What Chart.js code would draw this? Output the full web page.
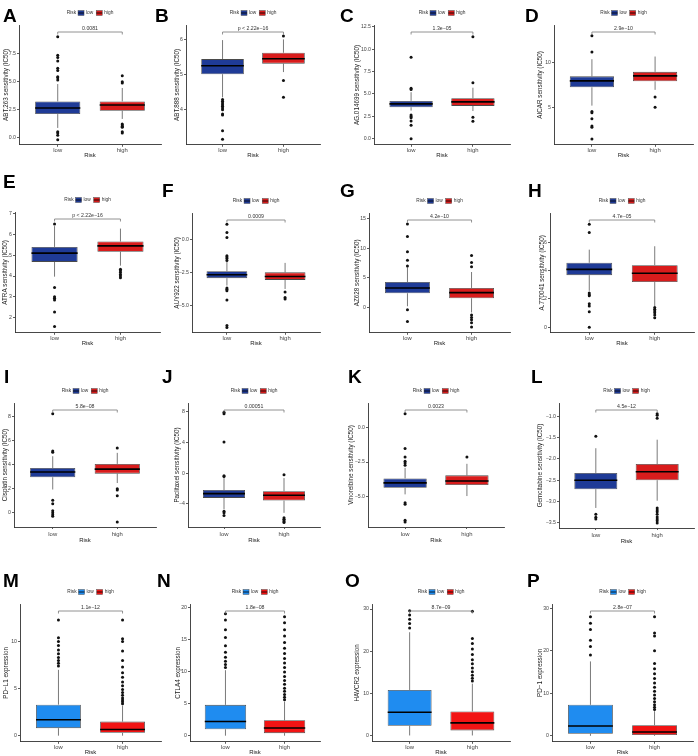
<!DOCTYPE html>
<html><head><meta charset="utf-8">
<script src="https://cdn.jsdelivr.net/npm/chart.js@4"></script>
<style>
html,body{margin:0;padding:0;background:#fff;}
body{width:698px;height:756px;position:relative;overflow:hidden;}
canvas{position:absolute;}
</style></head><body>
<script>
// ---------------- DATA ----------------
const categories = ['low', 'high'];
const panelLetters = ['A','B','C','D','E','F','G','H','I','J','K','L','M','N','O','P'];
const yTitles = [
  'ABT.263 sensitivity (IC50)','ABT.888 sensitivity (IC50)','AG.014699 sensitivity (IC50)','AICAR sensitivity (IC50)',
  'ATRA sensitivity (IC50)','AUY922 sensitivity (IC50)','AZ628 sensitivity (IC50)','A.770041 sensitivity (IC50)',
  'Cisplatin sensitivity (IC50)','Paclitaxel sensitivity (IC50)','Vinorelbine sensitivity (IC50)','Gemcitabine sensitivity (IC50)',
  'PD\u2212L1 expression','CTLA4 expression','HAVCR2 expression','PD\u22121 expression'
];
const pValues = ['0.0081','p < 2.22e\u221216','1.3e\u221205','2.9e\u221210',
  'p < 2.22e\u221216','0.0009','4.2e\u221210','4.7e\u221205',
  '5.8e\u221208','0.00051','0.0023','4.5e\u221212',
  '1.1e\u221212','1.8e\u221208','8.7e\u221209','2.8e\u221207'];
// [lower whisker, Q1, median, Q3, upper whisker]
const lowStats = [
  [0.85,2.08,2.62,3.21,4.75],[4.35,5.01,5.25,5.44,5.98],[3.15,3.52,3.9,4.23,5.2],[5.25,7.28,8.0,8.5,10.4],
  [3.97,4.68,5.1,5.4,6.4],[-3.46,-2.9,-2.64,-2.38,-1.67],[0.2,2.4,3.3,4.3,6.8],[2.58,3.69,4.1,4.57,5.5],
  [1.9,2.92,3.36,3.69,4.67],[-4.7,-3.22,-2.67,-2.2,-0.65],[-4.83,-4.35,-4.0,-3.68,-2.92],[-3.15,-2.71,-2.5,-2.33,-1.75],
  [0,0.8,1.7,3.3,7.0],[0,1.0,2.2,4.8,10.2],[0,2.3,5.5,10.8,24.5],[0,0.5,2.3,7.3,17.5]
];
const highStats = [
  [1.65,2.38,2.89,3.21,4.4],[5.07,5.31,5.45,5.62,6.0],[3.1,3.67,4.12,4.53,5.7],[7.0,7.95,8.55,9.0,10.7],
  [4.5,5.17,5.45,5.66,6.28],[-3.72,-3.03,-2.77,-2.46,-1.74],[-0.85,1.55,2.5,3.3,6.0],[1.5,3.2,3.83,4.4,5.74],
  [2.44,3.22,3.6,4.03,4.95],[-5.16,-3.57,-2.88,-2.36,-0.65],[-4.95,-4.16,-3.87,-3.46,-2.63],[-2.98,-2.5,-2.3,-2.12,-1.55],
  [0,0.3,0.65,1.5,3.2],[0,0.4,1.2,2.4,5.3],[0,1.2,3.0,5.7,12.3],[0,0.2,0.9,2.5,5.8]
];
const lowOutliers = [
  [8.95,7.3,7.1,6.8,6.15,5.95,5.4,5.3,5.1,0.5,0.4,0.2,-0.2],
  [4.29,4.24,4.19,4.14,4.1,4.05,4.0,3.88,3.85,3.4,3.16],
  [9.1,5.65,5.5,2.65,2.5,2.35,2.0,1.5,0.0],
  [13.0,11.2,4.6,4.45,3.8,3.0,2.85,1.55],
  [6.5,3.45,3.0,2.93,2.85,2.27,1.57],
  [1.2,0.56,0.18,-1.2,-1.3,-1.4,-1.55,-3.64,-3.75,-3.85,-4.56,-6.5,-6.65],
  [14.15,12.0,9.45,8.0,7.0,-0.4,-2.4],
  [7.3,6.72,2.42,2.3,2.22,1.67,1.5,1.1,0.0],
  [8.2,5.1,5.0,1.0,0.72,0.14,-0.03,-0.2,-0.33],
  [7.9,7.7,4.05,-0.43,-0.35,-4.95,-5.15,-5.5],
  [0.98,-1.53,-2.13,-2.44,-2.57,-2.73,-5.43,-5.55,-6.7,-6.82],
  [-1.47,-3.3,-3.37,-3.41],
  [7.4,7.7,8.0,8.3,8.7,9.1,9.6,10.0,10.4,12.3],
  [10.6,11.1,11.6,12.2,13.0,14.0,15.3,16.5,18.0,19.0],
  [25.5,26.6,27.6,28.6,29.6],
  [19.0,21.0,22.5,25.0,26.5,28.0]
];
const highOutliers = [
  [5.48,4.95,4.85,1.2,1.1,1.0,0.9,0.5,0.4],
  [6.1,4.83,4.35],
  [11.4,6.25,2.4,1.95],
  [6.2,5.07],
  [4.33,4.25,4.17,4.08,4.0,3.92],
  [-3.95,-4.36,-4.49],
  [8.8,7.6,6.9,-1.3,-1.7,-2.1,-2.6,-3.3],
  [1.39,1.27,1.15,1.03,0.86,0.67],
  [5.36,1.97,1.86,1.39,-0.8],
  [-0.2,-5.8,-6.0,-6.1,-6.3,-6.4],
  [-2.13],
  [-0.94,-0.98,-1.05,-3.15,-3.2,-3.24,-3.3,-3.36,-3.41,-3.45,-3.5],
  [3.4,3.6,3.8,4.0,4.3,4.6,4.9,5.3,5.7,6.2,6.7,7.3,8.0,9.0,10.0,10.3,12.3],
  [5.6,6.0,6.4,6.9,7.4,8.0,8.6,9.2,9.9,10.6,11.3,12.0,12.8,13.6,14.5,15.5,16.5,17.6,18.5],
  [12.9,13.6,14.3,15.1,16.0,17.0,18.0,19.2,20.5,21.8,23.0,29.5],
  [6.2,6.7,7.3,8.0,8.8,9.6,10.5,11.4,12.4,13.5,14.6,15.8,17.0,20.0,23.5,24.2,28.0]
];
const yRanges = [
  [-0.65,10.0],[3.0,6.41],[-0.67,12.7],[0.9,14.2],
  [1.27,7.08],[-7.05,2.05],[-4.3,16.0],[-0.4,8.1],
  [-1.22,9.1],[-7.0,9.1],[-7.18,1.75],[-3.62,-0.69],
  [-0.65,14.0],[-0.95,20.5],[-1.5,31.2],[-1.4,31.0]
];
const yTickValues = [
  [0,2.5,5,7.5],[4,5,6],[0,2.5,5,7.5,10,12.5],[5,10],
  [2,3,4,5,6,7],[-5,-2.5,0],[0,5,10,15],[0,2,4,6],
  [0,2,4,6,8],[-4,0,4,8],[-5,-2.5,0],[-3.5,-3,-2.5,-2,-1.5,-1],
  [0,5,10],[0,5,10,15,20],[0,10,20,30],[0,10,20,30]
];
const yTickLabels = [
  ['0.0','2.5','5.0','7.5'],['4','5','6'],['0.0','2.5','5.0','7.5','10.0','12.5'],['5','10'],
  ['2','3','4','5','6','7'],['\u22125.0','\u22122.5','0.0'],['0','5','10','15'],['0','2','4','6'],
  ['0','2','4','6','8'],['\u22124','0','4','8'],['\u22125.0','\u22122.5','0.0'],['\u22123.5','\u22123.0','\u22122.5','\u22122.0','\u22121.5','\u22121.0'],
  ['0','5','10'],['0','5','10','15','20'],['0','10','20','30'],['0','10','20','30']
];

// ---------------- LAYOUT (page pixels) ----------------
// l, t, r, b of plot area, y-title centre x, letter x, letter baseline, x-axis block height, tick padding
const layout = [
  [19,25,163,144, 6, 3,22,14.2,0],[186,25,322,144,177,155,22,14.2,0],[374,25,512,144,357,340,22,14.2,0],[554,25,695,144,540,525,22,14.2,0],
  [15,212,162,332, 5, 3,188,14.2,0],[192,213,322,332,177,162,197,14.2,0],[369,213,512,332,357,340,197,14.2,0],[550,213,696,332,542,528,197,14.2,0],
  [14,403,158,527, 5, 4,383,17,1.5],[188,403,322,527,177,162,383,17,1.5],[368,403,506,527,351,348,383,17,1.5],[559,403,697,528,540,531,383,17,1.5],
  [20,604,163,741, 6, 3,587,14.2,0],[190,604,322,741,178,157,587,14.2,0],[372,604,512,741,357,345,587,14.2,0],[552,604,695,741,540,527,587,14.2,0]
];
const FONT = "'Liberation Sans', Arial, sans-serif";
const colorsDark = ['#1f3b97', '#d91c1c'];
const colorsBright = ['#1f8cf0', '#f21414'];

const boxExtras = {
  id: 'boxExtras',
  beforeDatasetsDraw(chart, args, opts) {
    const p = opts.panel, xs = chart.scales.x, ys = chart.scales.y, ctx = chart.ctx;
    ctx.save();
    ctx.strokeStyle = '#6b6b6b'; ctx.lineWidth = 0.9;
    [lowStats[p], highStats[p]].forEach((s, i) => {
      const x = xs.getPixelForValue(i + 1);
      ctx.beginPath();
      ctx.moveTo(x, ys.getPixelForValue(s[0])); ctx.lineTo(x, ys.getPixelForValue(s[1]));
      ctx.moveTo(x, ys.getPixelForValue(s[3])); ctx.lineTo(x, ys.getPixelForValue(s[4]));
      ctx.stroke();
    });
    ctx.restore();
  },
  afterDatasetsDraw(chart, args, opts) {
    const p = opts.panel, ys = chart.scales.y, ctx = chart.ctx;
    const bars = chart.getDatasetMeta(1).data;
    ctx.save();
    ctx.strokeStyle = '#000'; ctx.lineWidth = 1.6;
    [lowStats[p], highStats[p]].forEach((s, i) => {
      const el = bars[i];
      const y = ys.getPixelForValue(s[2]);
      ctx.beginPath();
      ctx.moveTo(el.x - el.width / 2, y); ctx.lineTo(el.x + el.width / 2, y);
      ctx.stroke();
    });
    ctx.restore();
  },
  afterDraw(chart, args, opts) {
    const p = opts.panel, xs = chart.scales.x, ctx = chart.ctx, area = chart.chartArea;
    const L = layout[p];
    const cols = p >= 12 ? colorsBright : colorsDark;
    ctx.save();
    // bracket + p value
    const x1 = xs.getPixelForValue(1), x2 = xs.getPixelForValue(2);
    const by = area.top + 7;
    ctx.strokeStyle = '#777'; ctx.lineWidth = 0.8;
    ctx.beginPath();
    ctx.moveTo(x1, by + 2.5); ctx.lineTo(x1, by); ctx.lineTo(x2, by); ctx.lineTo(x2, by + 2.5);
    ctx.stroke();
    ctx.fillStyle = '#333'; ctx.font = '5.2px ' + FONT;
    ctx.textAlign = 'center'; ctx.textBaseline = 'bottom';
    ctx.fillText(pValues[p], (x1 + x2) / 2, by - 0.8);
    // legend
    ctx.font = '4.8px ' + FONT; ctx.textBaseline = 'middle'; ctx.textAlign = 'left';
    const gap = 2, iw = 6, ih = 5;
    const wT = ctx.measureText('Risk').width, w1 = ctx.measureText(categories[0]).width, w2 = ctx.measureText(categories[1]).width;
    const total = wT + gap + iw + gap + w1 + gap + 1 + iw + gap + w2;
    let lx = (area.left + area.right) / 2 - total / 2;
    const ly = area.top - 12;
    ctx.fillStyle = '#333'; ctx.fillText('Risk', lx, ly); lx += wT + gap;
    const icon = (x, c) => {
      ctx.fillStyle = c; ctx.fillRect(x, ly - ih / 2, iw, ih);
      ctx.strokeStyle = '#555'; ctx.lineWidth = 0.5; ctx.strokeRect(x, ly - ih / 2, iw, ih);
      ctx.strokeStyle = '#000'; ctx.lineWidth = 0.8;
      ctx.beginPath(); ctx.moveTo(x, ly); ctx.lineTo(x + iw, ly); ctx.stroke();
    };
    icon(lx, cols[0]); lx += iw + gap;
    ctx.fillStyle = '#333'; ctx.fillText(categories[0], lx, ly); lx += w1 + gap + 1;
    icon(lx, cols[1]); lx += iw + gap;
    ctx.fillStyle = '#333'; ctx.fillText(categories[1], lx, ly);
    // panel letter
    const cl = chart.canvas._pageLeft, ct = chart.canvas._pageTop;
    ctx.fillStyle = '#000'; ctx.font = 'bold 19px ' + FONT;
    ctx.textBaseline = 'alphabetic'; ctx.textAlign = 'left';
    ctx.fillText(panelLetters[p], L[5] - cl, L[6] - ct);
    ctx.restore();
  }
};

panelLetters.forEach((letter, p) => {
  const [l, t, r, b, titleX, letterX, letterBase, xh, tickPad] = layout[p];
  const cLeft = Math.floor(Math.min(letterX, titleX - 5) - 1);
  const cTop = Math.floor(letterBase - 18);
  const cRight = Math.min(698, r + 2);
  const cBottom = Math.ceil(b + xh);
  const w = cRight - cLeft, h = cBottom - cTop;
  const canvas = document.createElement('canvas');
  canvas.width = w; canvas.height = h;
  canvas.style.left = cLeft + 'px'; canvas.style.top = cTop + 'px';
  canvas.style.width = w + 'px'; canvas.style.height = h + 'px';
  canvas._pageLeft = cLeft; canvas._pageTop = cTop;
  document.body.appendChild(canvas);
  const cols = p >= 12 ? colorsBright : colorsDark;
  const scaleLeft = titleX - 3.8;
  const yw = l - scaleLeft;
  new Chart(canvas.getContext('2d'), {
    type: 'bar',
    data: {
      datasets: [
        {
          type: 'scatter', order: 0,
          data: [
            ...lowOutliers[p].map(v => ({ x: 1, y: v })),
            ...highOutliers[p].map(v => ({ x: 2, y: v }))
          ],
          pointRadius: 1.5, pointBackgroundColor: '#111', pointBorderWidth: 0
        },
        {
          type: 'bar', order: 1,
          data: [
            { x: 1, y: [lowStats[p][1], lowStats[p][3]] },
            { x: 2, y: [highStats[p][1], highStats[p][3]] }
          ],
          backgroundColor: cols, borderColor: '#4a4a4a', borderWidth: 0.8,
          borderSkipped: false, barPercentage: 0.7, categoryPercentage: 1
        }
      ]
    },
    options: {
      responsive: false, animation: false, devicePixelRatio: 1,
      layout: { padding: { left: scaleLeft - cLeft, top: t - cTop, right: cRight - r, bottom: 0 } },
      plugins: { legend: { display: false }, tooltip: { enabled: false }, boxExtras: { panel: p } },
      scales: {
        x: {
          type: 'linear', min: 0.4, max: 2.6, offset: false,
          afterBuildTicks: s => { s.ticks = categories.map((c, i) => ({ value: i + 1 })); },
          afterFit: s => { s.height = xh; },
          ticks: { callback: (v, i) => categories[i], autoSkip: false, maxRotation: 0, padding: tickPad,
                   color: '#444', font: { family: FONT, size: 5.9 } },
          grid: { display: true, offset: false, drawOnChartArea: false, drawTicks: true, tickLength: 2, color: '#333', lineWidth: 0.8 },
          border: { display: true, color: '#333', width: 0.9 },
          title: { display: true, text: 'Risk', color: '#222', padding: 0, font: { family: FONT, size: 6 } }
        },
        y: {
          type: 'linear', min: yRanges[p][0], max: yRanges[p][1], beginAtZero: false,
          afterBuildTicks: s => { s.ticks = yTickValues[p].map(v => ({ value: v })); },
          afterFit: s => { s.width = yw; },
          ticks: { callback: (v, i) => yTickLabels[p][i], autoSkip: false, padding: 1,
                   color: '#444', font: { family: FONT, size: 5.2 } },
          grid: { display: true, drawOnChartArea: false, drawTicks: true, tickLength: 2, color: '#333', lineWidth: 0.8 },
          border: { display: true, color: '#333', width: 0.9 },
          title: { display: true, text: yTitles[p], color: '#222', padding: 0, font: { family: FONT, size: 6.3 } }
        }
      }
    },
    plugins: [boxExtras]
  });
});
</script>
</body></html>
